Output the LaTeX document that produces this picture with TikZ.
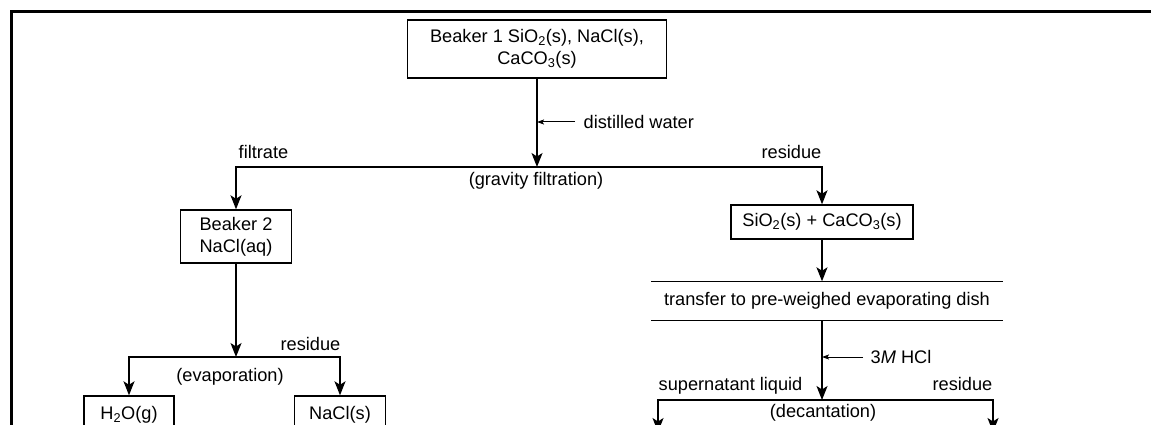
\documentclass[tikz,border=0pt]{standalone}
\usepackage{fontspec}
\setmainfont{Liberation Sans}
\usetikzlibrary{arrows.meta,positioning}

\begin{document}
\begin{tikzpicture}[x=1pt,y=-1pt,line width=1.4pt,
  every node/.style={inner sep=0pt,font=\fontsize{18.2}{22}\selectfont},
  box/.style={draw,align=center},
  flow/.style={-{Stealth[length=14pt,width=11pt,inset=3.5pt]}},
  feed/.style={-{Stealth[length=7pt,width=5pt,inset=1.5pt]},line width=1pt}]
\useasboundingbox (0,0) rectangle (1151,425);
\clip (0,0) rectangle (1151,425);
% frame
\draw[line width=3pt] (11,440) -- (11,12) -- (1165,12);
% boxes
\node[box,minimum width=259,minimum height=58] (b1) at (537,49) {Beaker 1 SiO\textsubscript{2}(s), NaCl(s),\\CaCO\textsubscript{3}(s)};
\node[box,minimum width=111,minimum height=53] (b2) at (236,236.5) {Beaker 2\\NaCl(aq)};
\node[box,minimum width=182,minimum height=34] (mix) at (822,222) {SiO\textsubscript{2}(s) + CaCO\textsubscript{3}(s)};
\node[box,minimum width=90,minimum height=38] (gas) at (129,415) {H\textsubscript{2}O(g)};
\node[box,minimum width=91,minimum height=38] (salt) at (340,415) {NaCl(s)};
\node[minimum width=350,minimum height=38] (dish) at (827,301) {transfer to pre-weighed evaporating dish};
\draw (dish.north west) -- (dish.north east) (dish.south west) -- (dish.south east);
% gravity filtration
\coordinate (gf) at (b1.south |- 0,167);
\draw[flow] (b1.south) -- (gf);
\draw[flow] (gf) -| (b2.north);
\draw[flow] (gf) -| (mix.north);
\node[anchor=west] (water) at (583,122) {distilled water};
\draw[feed] ([xshift=-8]water.west) -- (water.west -| gf);
\node[anchor=base west] (filt) at (238,158) {filtrate};
\node[anchor=base east] (res1) at (822,158) {residue};
\node (gfl) at (536,181) {(gravity filtration)};
% evaporation
\coordinate (ev) at (b2.south |- 0,357);
\draw[flow] (b2.south) -- (ev);
\draw[flow] (ev) -| (gas.north);
\draw[flow] (ev) -| (salt.north);
\node[anchor=base east] (res2) at (341,350) {residue};
\node (evl) at (230,377) {(evaporation)};
% decantation
\draw[flow] (mix.south) -- (dish.north -| mix.south);
\coordinate (dc) at (mix.south |- 0,400);
\draw[flow] (dish.south -| dc) -- (dc);
\node[anchor=west] (hcl) at (870,357) {3\textit{M} HCl};
\draw[feed] ([xshift=-7]hcl.west) -- (hcl.west -| dc);
\coordinate (liq) at (658,432);
\coordinate (sol) at (993,432);
\draw[flow] (dc) -| (liq);
\draw[flow] (dc) -| (sol);
\node[anchor=base west] (sup) at (658,390) {supernatant liquid};
\node[anchor=base east] (res3) at (993,390) {residue};
\node (dcl) at (823,413) {(decantation)};
\end{tikzpicture}
\end{document}
